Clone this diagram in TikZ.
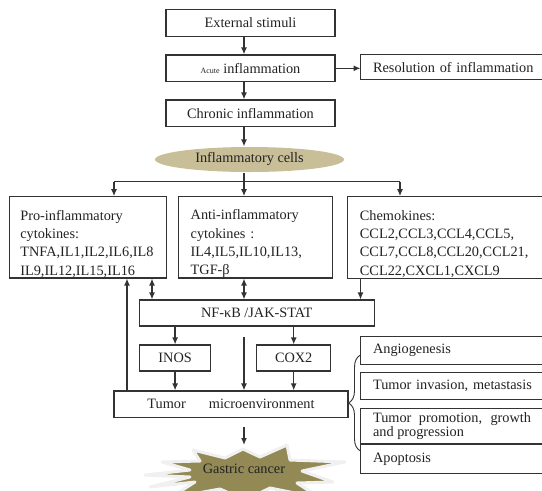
\documentclass[tikz,border=0pt]{standalone}
\usepackage{fontspec}
\setmainfont{Liberation Serif}
\usetikzlibrary{arrows.meta,shapes.geometric,decorations.pathreplacing}
\definecolor{linec}{HTML}{333333}
\definecolor{txtc}{HTML}{222222}
\definecolor{cellc}{HTML}{C8BE98}
\definecolor{cancerc}{HTML}{928955}
\newcommand{\mainfs}{\fontsize{14.3pt}{18.3pt}\selectfont}
\newcommand{\firstln}{\rule{0pt}{23pt}}

\begin{document}
\begin{tikzpicture}[x=1pt,y=-1pt,line width=1.1pt,font=\mainfs,text=txtc,
  box/.style={draw=linec,rectangle,inner sep=0pt,minimum height=26.7pt},
  openbox/.style={rectangle,anchor=west,inner xsep=12pt,inner ysep=0pt,text width=165pt,align=left},
  listbox/.style={draw=linec,rectangle,inner ysep=0pt,minimum height=81.3pt,align=left},
  arr/.style={draw=linec,line width=1.3pt,-{Latex[length=7pt,width=6pt]}},
  darr/.style={draw=linec,line width=1.3pt,{Latex[length=7pt,width=6pt]}-{Latex[length=7pt,width=6pt]}}]
\useasboundingbox (0,0) rectangle (542,491);
% 参考坐标
\coordinate (col) at (244,0);
\coordinate (edge) at (542,0);
\coordinate (xa) at (127,0);
\coordinate (xb) at (152,0);
\coordinate (xc) at (360.5,0);
\coordinate (splitL) at (114,181.7);
\coordinate (splitR) at (400,181.7);
\coordinate (gctop) at (244,445);
\coordinate (brt) at (360.5,355);
\coordinate (brb) at (360.5,451);
% 上部流程
\node[box,minimum width=169pt,minimum height=27.4pt] (ext) at (250.5,23) {External stimuli};
\node[box,minimum width=169pt] (acute) at (250.5,68.3) {{\fontsize{8pt}{10pt}\selectfont Acute} inflammation};
\node[openbox,minimum height=24.3pt] (res) at (360.5,67.2) {Resolution of inflammation};
\node[box,minimum width=169pt] (chronic) at (250.5,113.3) {Chronic inflammation};
\node[ellipse,fill=cellc,minimum width=189pt,minimum height=25pt,inner sep=0pt] (cells) at (249.5,159.5) {Inflammatory cells};
% 细胞因子
\node[listbox,minimum width=156.7pt,inner xsep=11pt,text width=134.7pt] (pro) at (87.7,237.3)
  {\firstln Pro-inflammatory\\cytokines:\\TNFA,IL1,IL2,IL6,IL8\\IL9,IL12,IL15,IL16};
\node[listbox,minimum width=153.8pt,inner xsep=12pt,text width=129.8pt] (anti) at (255.6,237.3)
  {\firstln Anti-inflammatory\\cytokines :\\IL4,IL5,IL10,IL13,\\TGF-β};
\node[openbox,minimum height=81.3pt] (chemo) at (347.4,237.3)
  {\firstln Chemokines:\\CCL2,CCL3,CCL4,CCL5,\\CCL7,CCL8,CCL20,CCL21,\\CCL22,CXCL1,CXCL9};
% 信号通路
\node[box,minimum width=234.7pt,minimum height=26pt] (nf) at (256.7,313) {NF-κB /JAK-STAT};
\node[box,minimum width=71.6pt,minimum height=26pt] (inos) at (175.1,358) {INOS};
\node[box,minimum width=74.3pt,minimum height=26pt] (cox) at (293.7,358) {COX2};
\node[box,minimum width=234pt] (tumor) at (231,404.3) {Tumor\hspace{23pt}microenvironment};
% 右侧结果
\node[openbox,minimum height=27.3pt] (angio) at (360.5,350.3) {Angiogenesis};
\node[openbox,minimum height=26pt] (inva) at (360.5,386.3) {Tumor invasion, metastasis};
\node[openbox,minimum height=34pt,text width=158pt,align=justify,font=\fontsize{14.3pt}{14pt}\selectfont] (promo) at (360.5,426.3)
  {Tumor promotion, growth\linebreak and progression};
\node[openbox,minimum height=28pt] (apop) at (360.5,459.3) {Apoptosis};
\foreach \n in {res,chemo,angio,inva,promo,apop}
  \draw[draw=linec] (\n.north west -| edge) -- (\n.north west) -- (\n.south west) -- (\n.south west -| edge);
% 胃癌（星形）
\draw[line width=3pt,draw=gray!12,fill=cancerc,line join=round]
  (145,475) -- (190,470) -- (162,462) -- (200,461) -- (193,450) -- (225,458) -- (243,449) -- (260,457)
  -- (287,445) -- (290,460) -- (345,462) -- (302,471) -- (333,482) -- (297,483) -- (320,498) -- (270,488)
  -- (245,500) -- (220,489) -- (170,498) -- (195,482) -- (150,487) -- (190,477) -- cycle;
\node (gc) at (244,469.3) {Gastric cancer};
% 箭头
\draw[arr] (ext.south -| col) -- (acute.north -| col);
\draw[arr] (acute.south -| col) -- (chronic.north -| col);
\draw[arr] (chronic.south -| col) -- (cells.north -| col);
\draw[arr] (acute.east) -- (acute.east -| res.west);
\draw[draw=linec,line width=1.3pt] (cells.south -| col) -- (splitL -| col);
\draw[draw=linec,line width=1.3pt] (splitL) -- (splitR);
\draw[arr] (splitL) -- (splitL |- pro.north);
\draw[arr] (splitL -| col) -- (anti.north -| col);
\draw[arr] (splitR) -- (splitR |- chemo.north);
\draw[arr] (tumor.north -| xa) -- (pro.south -| xa);
\draw[darr] (pro.south -| xb) -- (nf.north -| xb);
\draw[darr] (anti.south -| col) -- (nf.north -| col);
\draw[arr] (chemo.south -| xc) -- (nf.north -| xc);
\draw[arr] (nf.south -| inos) -- (inos.north);
\draw[arr] (nf.south -| cox) -- (cox.north);
\draw[arr] (inos.south) -- (inos.south |- tumor.north);
\draw[arr] (cox.south) -- (cox.south |- tumor.north);
\draw[arr,shorten <=10pt] (nf.south -| col) -- (tumor.north -| col);
\draw[arr,shorten <=9pt] (tumor.south -| col) -- (gctop);
% 大括号
\draw[draw=linec,line width=0.9pt,decorate,decoration={brace,amplitude=12pt}] (brb) -- (brt);
\end{tikzpicture}
\end{document}
